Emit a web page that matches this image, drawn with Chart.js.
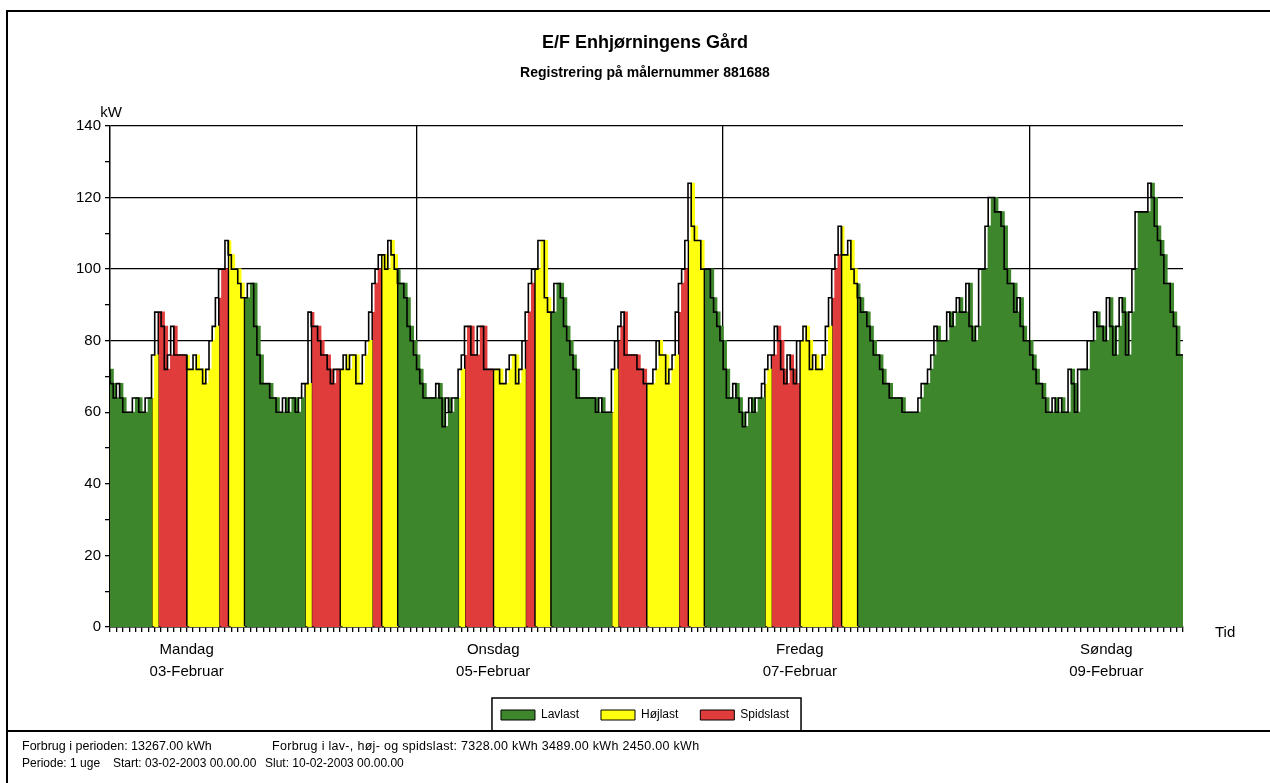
<!DOCTYPE html>
<html lang="da">
<head>
<meta charset="utf-8">
<title>E/F Enhjørningens Gård</title>
<script src="https://cdn.jsdelivr.net/npm/chart.js@4.4.1/dist/chart.umd.min.js"></script>
<style>
  html, body { margin: 0; padding: 0; background: #fff; }
  body { width: 1270px; height: 783px; position: relative; overflow: hidden; font-family: 'Liberation Sans', Arial, sans-serif; color: #000; }
  #frame { position: absolute; left: 6px; top: 10px; width: 1280px; height: 790px; border-top: 2px solid #000; border-left: 2px solid #000; }
  #wrap { position: absolute; left: 10px; top: 0; width: 1270px; height: 731px; }
  #footer { position: absolute; left: 6px; top: 730px; width: 1280px; height: 60px; border-top: 2px solid #000; font-size: 12px; line-height: 17px; padding: 6px 0 0 16px; box-sizing: border-box; }
  #footer span { display: inline-block; white-space: nowrap; }
</style>
</head>
<body>
<div id="frame"></div>
<div id="wrap"><canvas id="chart" width="1270" height="731"></canvas></div>
<div id="footer">
  <div><span style="width:250px;font-size:12.5px">Forbrug i perioden: 13267.00 kWh</span><span style="font-size:12.5px;letter-spacing:0.3px">Forbrug i lav-, høj- og spidslast: 7328.00 kWh 3489.00 kWh 2450.00 kWh</span></div>
  <div><span style="width:91px">Periode: 1 uge</span><span style="width:152px">Start: 03-02-2003 00.00.00</span><span>Slut: 10-02-2003 00.00.00</span></div>
</div>
<script>
// kW per half hour, 48 values per day (00:00 - 24:00)
const mandag = [
  72, 68, 64, 68, 64, 60, 60, 60, 64, 64, 60, 60,
  64, 64, 76, 88, 88, 84, 72, 76, 84, 76, 76, 76,
  76, 72, 72, 76, 72, 72, 68, 72, 80, 84, 92, 100,
  100, 108, 104, 100, 100, 96, 92, 92, 96, 96, 84, 76
];
const tirsdag = [
  68, 68, 68, 64, 64, 60, 60, 64, 60, 64, 64, 60,
  64, 68, 68, 88, 84, 84, 80, 76, 76, 72, 68, 72,
  72, 72, 76, 72, 76, 76, 68, 68, 76, 80, 88, 96,
  100, 104, 104, 100, 108, 104, 100, 96, 96, 92, 84, 80
];
const onsdag = [
  76, 72, 68, 64, 64, 64, 64, 68, 64, 56, 64, 60,
  64, 64, 72, 76, 84, 84, 76, 76, 84, 84, 72, 72,
  72, 72, 72, 68, 68, 72, 76, 76, 68, 72, 80, 88,
  96, 100, 100, 108, 108, 92, 88, 88, 96, 96, 92, 84
];
const torsdag = [
  80, 76, 72, 64, 64, 64, 64, 64, 64, 60, 64, 60,
  60, 60, 72, 80, 84, 88, 76, 76, 76, 76, 72, 72,
  68, 68, 68, 72, 80, 76, 76, 68, 72, 76, 88, 96,
  100, 108, 124, 112, 108, 108, 100, 100, 100, 92, 88, 84
];
const fredag = [
  80, 72, 64, 64, 68, 64, 60, 56, 60, 64, 60, 64,
  64, 68, 72, 76, 76, 84, 80, 72, 68, 76, 72, 68,
  80, 80, 84, 80, 72, 76, 72, 72, 76, 84, 92, 100,
  104, 112, 104, 104, 108, 100, 96, 92, 88, 88, 84, 80
];
const lordag = [
  76, 76, 72, 68, 68, 64, 64, 64, 64, 60, 60, 60,
  60, 60, 64, 68, 68, 72, 76, 84, 80, 80, 80, 88,
  84, 88, 92, 88, 88, 96, 84, 80, 84, 100, 100, 112,
  120, 120, 116, 116, 112, 100, 96, 96, 88, 92, 84, 80
];
const sondag = [
  80, 76, 72, 68, 68, 64, 60, 60, 64, 60, 64, 60,
  60, 72, 68, 60, 72, 72, 72, 80, 80, 88, 84, 84,
  80, 92, 84, 76, 84, 92, 88, 76, 88, 100, 116, 116,
  116, 116, 124, 120, 112, 108, 104, 96, 96, 88, 84, 76
];

const dagNavne = ['Mandag', 'Tirsdag', 'Onsdag', 'Torsdag', 'Fredag', 'Lørdag', 'Søndag'];
const datoer = ['03-Februar', '04-Februar', '05-Februar', '06-Februar', '07-Februar', '08-Februar', '09-Februar'];
const visteDage = [0, 2, 4, 6];

// tariff periods on weekdays [tariff, from hour, to hour]; weekends are all lavlast
const hverdagTarif = [
  ['lav', 0, 6.5], ['hoj', 6.5, 7.5], ['spids', 7.5, 12], ['hoj', 12, 17],
  ['spids', 17, 18.5], ['hoj', 18.5, 21], ['lav', 21, 24]
];
const hverdage = 5;
const tarifKeys = ['lav', 'hoj', 'spids'];
const tarifNavne = ['Lavlast', 'Højlast', 'Spidslast'];
const tarifFarver = ['#3e862c', '#ffff10', '#e03c3c'];

const dage = [mandag, tirsdag, onsdag, torsdag, fredag, lordag, sondag];
const kw = dage.flat();
const tarif = kw.map((v, i) => {
  const d = Math.floor(i / 48);
  const t = (i % 48) / 2;
  if (d >= hverdage) return 'lav';
  return hverdagTarif.find(p => t >= p[1] && t < p[2])[0];
});

const slotOf = ctx => ctx.raw ? Math.round((ctx.raw.x - 0.25) * 2) : 0;

const barSets = tarifKeys.map((key, k) => ({
  type: 'bar',
  label: tarifNavne[k],
  data: kw.map((v, i) => ({ x: i / 2 + 0.25, y: v, key: tarif[i] })).filter(p => p.key === key),
  backgroundColor: tarifFarver[k],
  borderColor: '#000',
  borderWidth: ctx => {
    const i = slotOf(ctx);
    const edge = i > 0 && tarif[i - 1] !== tarif[i] ? 2.4 : 0;
    return { left: edge, right: 0, top: 0, bottom: 0 };
  },
  borderSkipped: false,
  inflateAmount: 0.6,
  grouped: false,
  barPercentage: 1,
  categoryPercentage: 1,
  order: 1
}));

const outline = {
  type: 'line',
  label: 'profil',
  data: [...kw.map((v, i) => ({ x: i / 2, y: v })), { x: kw.length / 2, y: kw[kw.length - 1] }],
  stepped: 'after',
  borderColor: '#000',
  borderWidth: 1.6,
  pointRadius: 0,
  fill: false,
  order: 0
};

const FONT = "'Liberation Sans', Arial, sans-serif";

const ekstraTekst = {
  id: 'ekstraTekst',
  afterDraw(chart) {
    const { ctx, chartArea } = chart;
    ctx.save();
    ctx.fillStyle = '#000';
    ctx.font = '15px ' + FONT;
    ctx.textAlign = 'center';
    ctx.textBaseline = 'alphabetic';
    ctx.fillText('kW', chartArea.left + 1, chartArea.top - 9);
    ctx.textAlign = 'left';
    ctx.textBaseline = 'middle';
    ctx.fillText('Tid', chartArea.right + 32, chartArea.bottom + 6);

    const hb = chart.legend.legendHitBoxes;
    if (hb && hb.length) {
      const l = Math.min(...hb.map(b => b.left)) - 9;
      const r = Math.max(...hb.map(b => b.left + b.width)) + 12;
      const t = hb[0].top - 11;
      ctx.strokeStyle = '#000';
      ctx.lineWidth = 1.5;
      ctx.strokeRect(l, t, r - l, chart.height - t + 2);
    }
    ctx.restore();
  }
};

new Chart(document.getElementById('chart'), {
  type: 'bar',
  data: { datasets: [...barSets, outline] },
  options: {
    responsive: false,
    animation: false,
    devicePixelRatio: 1,
    layout: { padding: 0 },
    plugins: {
      tooltip: { enabled: false },
      title: {
        display: true,
        text: 'E/F Enhjørningens Gård',
        color: '#000',
        font: { family: FONT, size: 18, weight: 'bold' },
        padding: { top: 32, bottom: 0 }
      },
      subtitle: {
        display: true,
        text: 'Registrering på målernummer 881688',
        color: '#000',
        font: { family: FONT, size: 14, weight: 'bold' },
        padding: { top: 11, bottom: 44.6 }
      },
      legend: {
        position: 'bottom',
        labels: {
          boxWidth: 34,
          boxHeight: 10,
          padding: 22,
          color: '#000',
          font: { family: FONT, size: 12 },
          generateLabels: () => tarifNavne.map((t, k) => ({
            text: t,
            fillStyle: tarifFarver[k],
            strokeStyle: '#000',
            lineWidth: 1,
            hidden: false,
            datasetIndex: k
          }))
        }
      }
    },
    scales: {
      x: {
        type: 'linear',
        min: 0,
        max: 168,
        offset: false,
        afterBuildTicks: scale => {
          scale.ticks = Array.from({ length: 169 }, (_, h) => ({ value: h }));
        },
        afterFit: scale => { scale.height = 60; },
        ticks: {
          autoSkip: false,
          maxRotation: 0,
          padding: 7,
          color: '#000',
          font: { family: FONT, size: 15, lineHeight: 1.45 },
          callback: value => {
            const d = visteDage.find(dd => dd * 24 + 12 === value);
            return d === undefined ? '' : [dagNavne[d], datoer[d]];
          }
        },
        grid: {
          offset: false,
          color: ctx => ctx.tick && ctx.tick.value % 48 === 0 && ctx.tick.value > 0 ? '#000' : 'rgba(0,0,0,0)',
          tickColor: '#000',
          tickLength: 5,
          lineWidth: 1.3
        },
        border: { color: '#000', width: 1.5 }
      },
      y: {
        min: 0,
        max: 140,
        afterFit: scale => { scale.width = 100; },
        ticks: {
          stepSize: 10,
          padding: 4,
          color: '#000',
          font: { family: FONT, size: 15 },
          callback: v => (v % 20 === 0 ? v : '')
        },
        grid: {
          color: ctx => ctx.tick && ctx.tick.value % 20 === 0 ? '#000' : 'rgba(0,0,0,0)',
          tickColor: '#000',
          tickLength: 5,
          lineWidth: 1.3
        },
        border: { color: '#000', width: 1.5 }
      },
      hoejre: {
        position: 'right',
        display: true,
        afterFit: scale => { scale.width = 97; },
        ticks: { display: false },
        grid: { display: false, drawTicks: false },
        border: { display: false }
      }
    }
  },
  plugins: [ekstraTekst]
});
</script>
</body>
</html>
